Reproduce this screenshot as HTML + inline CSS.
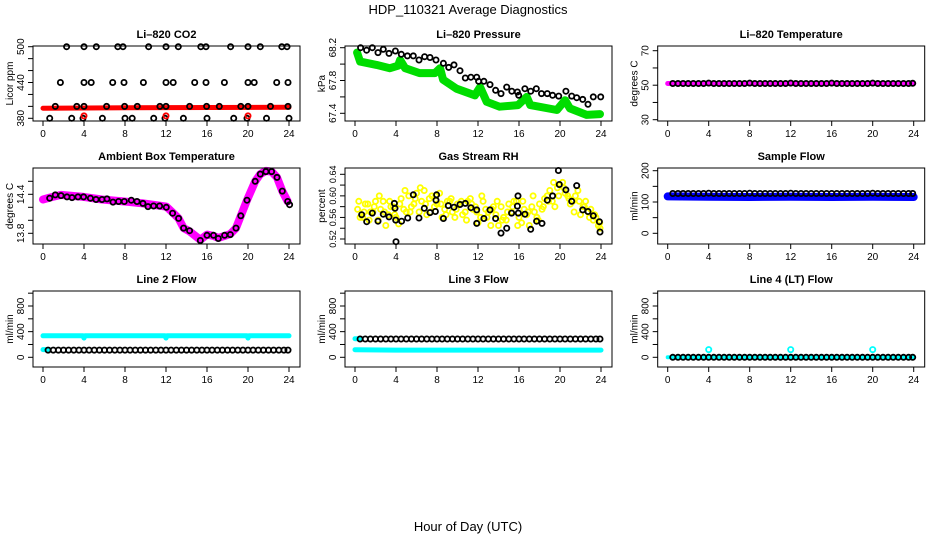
<!DOCTYPE html>
<html><head><meta charset="utf-8">
<style>
html,body{margin:0;padding:0;background:#fff;}
svg{display:block;font-family:"Liberation Sans",sans-serif;}
</style></head>
<body>
<svg id="chart" width="936" height="540" viewBox="0 0 936 540" xmlns="http://www.w3.org/2000/svg">
<text x="468" y="14" text-anchor="middle" font-size="13">HDP_110321  Average Diagnostics</text>
<text x="468" y="531" text-anchor="middle" font-size="13">Hour of Day (UTC)</text>
</svg>
<script>
// ---------- data ----------
const blackHours = [0.5,1,1.5,2,2.5,3,3.5,4,4.5,5,5.5,6,6.5,7,7.5,8,8.5,9,9.5,10,10.5,11,11.5,12,12.5,13,13.5,14,14.5,15,15.5,16,16.5,17,17.5,18,18.5,19,19.5,20,20.5,21,21.5,22,22.5,23,23.5,23.9];
const xTicks = [0,4,8,12,16,20,24];

// CO2
const co2Hours = [2.3,4.0,5.2,7.3,7.8,10.3,12.0,13.2,15.4,15.9,18.3,20.0,21.2,23.3,23.8,
 1.7,4.0,4.7,6.8,7.9,9.8,12.0,12.7,14.8,15.9,17.7,20.0,20.6,22.8,23.9,
 1.2,3.3,4.0,6.2,7.96,9.2,11.4,12.0,14.3,15.96,17.2,19.3,20.0,22.2,23.9,
 0.65,2.8,3.9,5.8,8.0,8.7,10.8,11.9,13.7,16.0,18.6,19.9,21.8,24.0];
const co2Vals = [500,500,500,500,500,500,500,500,500,500,500,500,500,500,500,
 440,440,440,440,440,440,440,440,440,440,440,440,440,440,440,
 400,400,400,400,400,400,400,400,400,400,400,400,400,400,400,
 380,380,380,380,380,380,380,380,380,380,380,380,380,380];
const co2BandHours = [0,12,24];
const co2BandVals = [397,398,398.5];
const co2RedHours = [4,12,20];
const co2RedVals = [384,384,384];

// Pressure
const presHours = [0.55,1.13,1.69,2.24,2.76,3.32,3.94,4.52,5.11,5.69,6.24,6.79,7.32,7.9,8.62,9.14,9.66,10.24,10.76,11.31,11.87,12.06,12.58,13.17,13.72,14.24,14.8,15.3,15.84,15.97,16.58,17.14,17.69,18.2,18.76,19.28,19.87,20.58,21.14,21.63,22.21,22.73,23.25,23.97];
const presVals = [68.20,68.17,68.20,68.14,68.18,68.13,68.16,68.12,68.10,68.10,68.05,68.09,68.08,68.05,68.01,67.96,67.99,67.92,67.83,67.84,67.84,67.79,67.79,67.75,67.68,67.64,67.72,67.67,67.66,67.62,67.70,67.67,67.70,67.64,67.64,67.62,67.61,67.67,67.61,67.59,67.57,67.51,67.60,67.60];
const presBandHours = [0.2,0.5,2.1,3.4,4.2,4.4,4.9,6.3,7.8,8.3,8.6,9.9,11.7,12.2,12.85,14.1,15.9,16.75,17.1,19.7,20.5,20.97,22.6,23.9];
const presBandVals = [68.14,68.03,67.99,67.95,67.98,68.05,67.95,67.89,67.89,67.95,67.81,67.70,67.62,67.72,67.54,67.48,67.50,67.60,67.50,67.44,67.56,67.46,67.38,67.39];

// Li-820 temperature
const tempVals = [51,51,51,51,51,51,51,51.2,51,51,51,51,51,51,51,51.2,51,51,51,51,51,51,51,51.2,51,51,51,51,51,51,51,51.2,51,51,51,51,51,51,51,51.2,51,51,51,51,51,51,51,51.1];
const tempBandHours = [0,24];
const tempBandVals = [51,51];

// Ambient box temperature
const ambHours = [0.65,1.2,1.76,2.34,2.83,3.41,3.96,4.62,5.17,5.76,6.24,6.83,7.38,7.93,8.61,9.17,9.75,10.24,10.79,11.38,12.03,12.64,13.23,13.72,14.3,15.35,16.0,16.63,17.1,17.72,18.27,18.83,19.3,19.9,20.7,21.2,21.75,22.3,22.83,23.35,23.87,24.06];
const ambVals = [14.34,14.39,14.38,14.36,14.35,14.36,14.36,14.34,14.32,14.32,14.33,14.28,14.29,14.29,14.31,14.29,14.26,14.21,14.22,14.22,14.20,14.11,14.03,13.88,13.84,13.69,13.77,13.77,13.72,13.77,13.78,13.88,14.07,14.31,14.60,14.71,14.75,14.75,14.66,14.45,14.29,14.24];
const ambBandHours = [0,0.65,1.76,3.96,5.76,7.93,9.75,12.03,12.64,13.23,13.72,14.3,15.35,16.0,16.63,17.1,17.72,18.27,18.83,19.3,19.9,20.7,21.2,21.75,22.3,22.83,23.35,23.87];
const ambBandVals = [14.32,14.35,14.39,14.36,14.32,14.29,14.26,14.21,14.12,14.03,13.88,13.83,13.70,13.78,13.76,13.73,13.76,13.79,13.88,14.07,14.31,14.60,14.71,14.76,14.75,14.66,14.45,14.29];

// Gas stream RH
const rhHours = [0.65,1.14,1.69,2.24,2.76,3.32,3.84,3.9,3.97,4.0,4.55,5.14,5.69,6.24,6.76,7.32,7.84,7.9,7.96,8.62,9.1,9.66,10.24,10.76,11.31,11.87,11.87,12.58,13.17,13.72,14.24,14.8,15.28,15.84,15.9,15.93,16.58,17.14,17.72,18.24,18.76,19.28,19.84,19.93,20.58,21.14,21.63,22.21,22.73,23.25,23.84,23.9];
const rhVals = [0.565,0.552,0.568,0.553,0.566,0.561,0.586,0.577,0.555,0.515,0.553,0.559,0.602,0.559,0.577,0.569,0.571,0.592,0.602,0.558,0.582,0.579,0.584,0.586,0.578,0.574,0.549,0.558,0.574,0.558,0.531,0.540,0.568,0.581,0.600,0.568,0.566,0.538,0.553,0.549,0.592,0.600,0.647,0.621,0.611,0.590,0.619,0.574,0.571,0.563,0.552,0.533];
const rhYellowA = [.575,.560,.585,.570,.555,.590,.565,.580,.548,.575,.600,.585,.570,.610,.595,.580,.605,.575,.590,.560,.585,.570,.595,.580,.560,.575,.545,.565,.580,.555,.570,.590,.550,.565,.580,.560,.575,.600,.590,.615,.625,.600,.590,.610,.580,.570,.555,.545];
const rhYellowB = [.560,.585,.570,.590,.575,.545,.580,.560,.595,.570,.580,.605,.590,.565,.600,.585,.560,.590,.570,.585,.565,.590,.575,.550,.590,.570,.580,.545,.560,.585,.590,.560,.575,.545,.570,.585,.595,.610,.580,.620,.605,.585,.600,.565,.590,.575,.560,.540];
const rhYellowC = [.590,.570,.555,.580,.600,.570,.590,.565,.585,.610,.570,.595,.615,.585,.570,.600,.585,.565,.595,.575,.590,.555,.585,.570,.600,.560,.575,.590,.555,.570,.580,.545,.590,.570,.600,.555,.580,.590,.625,.600,.615,.595,.570,.590,.580,.560,.565,.550];
const yellowHoursA = [0.25,0.75,1.25,1.75,2.25,2.75,3.25,3.75,4.25,4.75,5.25,5.75,6.25,6.75,7.25,7.75,8.25,8.75,9.25,9.75,10.25,10.75,11.25,11.75,12.25,12.75,13.25,13.75,14.25,14.75,15.25,15.75,16.25,16.75,17.25,17.75,18.25,18.75,19.25,19.75,20.25,20.75,21.25,21.75,22.25,22.75,23.25,23.75];
const yellowHoursC = [0.375,0.875,1.375,1.875,2.375,2.875,3.375,3.875,4.375,4.875,5.375,5.875,6.375,6.875,7.375,7.875,8.375,8.875,9.375,9.875,10.375,10.875,11.375,11.875,12.375,12.875,13.375,13.875,14.375,14.875,15.375,15.875,16.375,16.875,17.375,17.875,18.375,18.875,19.375,19.875,20.375,20.875,21.375,21.875,22.375,22.875,23.375,23.875];

// Sample flow
const sampleVals = [127,127,127,127,127,127,127,128,127,127,127,127,127,127,127,128,127,127,127,127,127,127,127,128,127,127,127,127,127,127,127,127,127,127,127,127,127,127,127,128,127,127,127,127,127,127,127,127];
const sampleBandHours = [0,4,8,12,16,20,24];
const sampleBandVals = [118,117,116,117,116,117,116];

// Line flows
const line2Vals = [112,112,112,112,112,112,112,112,112,112,112,112,112,112,112,112,112,112,112,112,112,112,112,112,112,112,112,112,112,112,112,112,112,112,112,112,112,112,112,112,112,112,112,112,112,112,112,112];
const line2UpperHours = [0,3.9,4.0,4.1,11.9,12.0,12.1,19.9,20.0,20.1,24];
const line2UpperVals = [335,335,300,335,335,300,335,335,300,335,335];
const line2LowerHours = [0,0.6];
const line2LowerVals = [120,120];
const line3Vals = [285,285,285,285,285,285,285,285,285,285,285,285,285,285,285,285,285,285,285,285,285,285,285,285,285,285,285,285,285,285,285,285,285,285,285,285,285,285,285,285,285,285,285,285,285,285,285,285];
const line3UpperHours = [0,0.6];
const line3UpperVals = [290,290];
const line3LowerHours = [0,4,8,12,16,20,24];
const line3LowerVals = [118,112,112,112,112,112,112];
const line4Vals = [0,0,0,0,0,0,0,0,0,0,0,0,0,0,0,0,0,0,0,0,0,0,0,0,0,0,0,0,0,0,0,0,0,0,0,0,0,0,0,0,0,0,0,0,0,0,0,0];
const line4BandHours = [0,24];
const line4BandVals = [0,0];
const line4BlipHours = [4,12,20];
const line4BlipVals = [120,120,120];

// ---------- drawing ----------
const svg = document.getElementById('chart');
const NS = 'http://www.w3.org/2000/svg';
function mk(tag, attrs){ const e=document.createElementNS(NS,tag); for(const k in attrs) e.setAttribute(k,attrs[k]); return e; }

function makePanel(p){
  const g = mk('g',{});
  
  
  svg.appendChild(g);
  const x0 = p.x0, xs = 246/24;
  const X = h => x0 + h*xs;
  const Y = v => p.py1 + (v - p.v1)*(p.py2 - p.py1)/(p.v2 - p.v1);
  const left = x0-10, right = x0+257;
  const t = mk('text',{x:(left+right)/2, y:p.top-8, 'text-anchor':'middle','font-size':11,'font-weight':'bold'});
  t.textContent = p.title;
  
  
  g.appendChild(t);
  (p.bands||[]).forEach(b=>{
    const pts = b.h.map((h,i)=>X(h).toFixed(1)+','+Y(b.v[i]).toFixed(1)).join(' ');
    const pl = mk('polyline',{points:pts, fill:'none', stroke:b.c, 'stroke-width':b.w, 'stroke-linejoin':'round','stroke-linecap':'round'});
    
    
    g.appendChild(pl);
  });
  (p.points||[]).forEach(s=>{
    s.h.forEach((h,i)=>{
      const c = mk('circle',{cx:X(h).toFixed(1), cy:Y(s.v[i]).toFixed(1), r:s.r||2.6, fill:'none', stroke:s.c, 'stroke-width':s.w||1.8});
      
      
      g.appendChild(c);
    });
  });
  const box = mk('rect',{x:left, y:p.top, width:right-left, height:p.bot-p.top, fill:'none', stroke:'#000', 'stroke-width':1});
  
  
  g.appendChild(box);
  xTicks.forEach(h=>{
    const tk = mk('line',{x1:X(h), x2:X(h), y1:p.bot, y2:p.bot+5, stroke:'#000'});
    
    
    g.appendChild(tk);
    const lb = mk('text',{x:X(h), y:p.bot+16, 'text-anchor':'middle','font-size':10});
    lb.textContent = h;
    
    
    g.appendChild(lb);
  });
  p.yTicks.forEach(v=>{
    const tk = mk('line',{x1:left-5, x2:left, y1:Y(v), y2:Y(v), stroke:'#000'});
    
    
    g.appendChild(tk);
  });
  p.yLabels.forEach(v=>{
    const lx = left-9, ly = Y(v);
    const lb = mk('text',{x:lx, y:ly, 'text-anchor':'middle','font-size':p.yfs||10, transform:`rotate(-90 ${lx} ${ly})`});
    lb.textContent = v;
    
    
    g.appendChild(lb);
  });
  const ax = left-20, ay = (p.top+p.bot)/2;
  const yt = mk('text',{x:ax, y:ay, 'text-anchor':'middle','font-size':10, transform:`rotate(-90 ${ax} ${ay})`});
  yt.textContent = p.ylab;
  
  
  g.appendChild(yt);
}

const C1=43, C2=355, C3=667.7;
const R1=[46,121], R2=[168,244], R3=[291,367];
const flowTicks=[0,200,400,600,800,1000], flowLabels=[0,400,800];

makePanel({name:'panel-co2', title:'Li\u2013820 CO2', ylab:'Licor ppm', x0:C1, top:R1[0], bot:R1[1], v1:380, py1:118.3, v2:500, py2:46.7,
  yTicks:[380,400,420,440,460,480,500], yLabels:['380','440','500'],
  bands:[{h:co2BandHours, v:co2BandVals, c:'#ff0000', w:5}],
  points:[{h:co2Hours, v:co2Vals, c:'#000'},{h:co2RedHours, v:co2RedVals, c:'#ff0000'}]});
makePanel({name:'panel-pressure', title:'Li\u2013820 Pressure', ylab:'kPa', x0:C2, top:R1[0], bot:R1[1], v1:67.4, py1:113.3, v2:68.2, py2:47.7,
  yTicks:[67.4,67.6,67.8,68.0,68.2], yLabels:['67.4','67.8','68.2'],
  bands:[{h:presBandHours, v:presBandVals, c:'#00dd00', w:8}],
  points:[{h:presHours, v:presVals, c:'#000'}]});
makePanel({name:'panel-li820-temperature', title:'Li\u2013820 Temperature', ylab:'degrees C', x0:C3, top:R1[0], bot:R1[1], v1:30, py1:119.7, v2:70, py2:50.7,
  yTicks:[30,40,50,60,70], yLabels:['30','50','70'],
  bands:[{h:tempBandHours, v:tempBandVals, c:'#ff00ff', w:5}],
  points:[{h:blackHours, v:tempVals, c:'#000'}]});
makePanel({name:'panel-ambient-temperature', title:'Ambient Box Temperature', ylab:'degrees C', x0:C1, top:R2[0], bot:R2[1], v1:13.8, py1:233.3, v2:14.4, py2:194.3,
  yTicks:[13.8,14.0,14.2,14.4,14.6], yLabels:['13.8','14.4'],
  bands:[{h:ambBandHours, v:ambBandVals, c:'#ff00ff', w:8}],
  points:[{h:ambHours, v:ambVals, c:'#000'}]});
makePanel({name:'panel-gas-rh', title:'Gas Stream RH', ylab:'percent', x0:C2, top:R2[0], bot:R2[1], v1:0.52, py1:239, v2:0.64, py2:174.3, yfs:9,
  yTicks:[0.52,0.54,0.56,0.58,0.60,0.62,0.64], yLabels:['0.52','0.56','0.60','0.64'],
  points:[{h:yellowHoursA, v:rhYellowA, c:'#ffff00', w:1.8},{h:blackHours, v:rhYellowB, c:'#ffff00', w:1.8},{h:yellowHoursC, v:rhYellowC, c:'#ffff00', w:1.8},{h:rhHours, v:rhVals, c:'#000'}]});
makePanel({name:'panel-sample-flow', title:'Sample Flow', ylab:'ml/min', x0:C3, top:R2[0], bot:R2[1], v1:0, py1:233.3, v2:200, py2:170.7,
  yTicks:[0,50,100,150,200], yLabels:['0','100','200'],
  bands:[{h:sampleBandHours, v:sampleBandVals, c:'#0000ff', w:8}],
  points:[{h:blackHours, v:sampleVals, c:'#000'}]});
makePanel({name:'panel-line2-flow', title:'Line 2 Flow', ylab:'ml/min', x0:C1, top:R3[0], bot:R3[1], v1:0, py1:357.3, v2:800, py2:306,
  yTicks:flowTicks, yLabels:flowLabels,
  bands:[{h:line2UpperHours, v:line2UpperVals, c:'#00ffff', w:5},{h:line2LowerHours, v:line2LowerVals, c:'#00ffff', w:5}],
  points:[{h:blackHours, v:line2Vals, c:'#000'}]});
makePanel({name:'panel-line3-flow', title:'Line 3 Flow', ylab:'ml/min', x0:C2, top:R3[0], bot:R3[1], v1:0, py1:357.3, v2:800, py2:306,
  yTicks:flowTicks, yLabels:flowLabels,
  bands:[{h:line3UpperHours, v:line3UpperVals, c:'#00ffff', w:5},{h:line3LowerHours, v:line3LowerVals, c:'#00ffff', w:5}],
  points:[{h:blackHours, v:line3Vals, c:'#000'}]});
makePanel({name:'panel-line4-flow', title:'Line 4 (LT) Flow', ylab:'ml/min', x0:C3, top:R3[0], bot:R3[1], v1:0, py1:357.3, v2:800, py2:306,
  yTicks:flowTicks, yLabels:flowLabels,
  bands:[{h:line4BandHours, v:line4BandVals, c:'#00ffff', w:4}],
  points:[{h:line4BlipHours, v:line4BlipVals, c:'#00ffff'},{h:blackHours, v:line4Vals, c:'#000'}]});
</script>
</body></html>
